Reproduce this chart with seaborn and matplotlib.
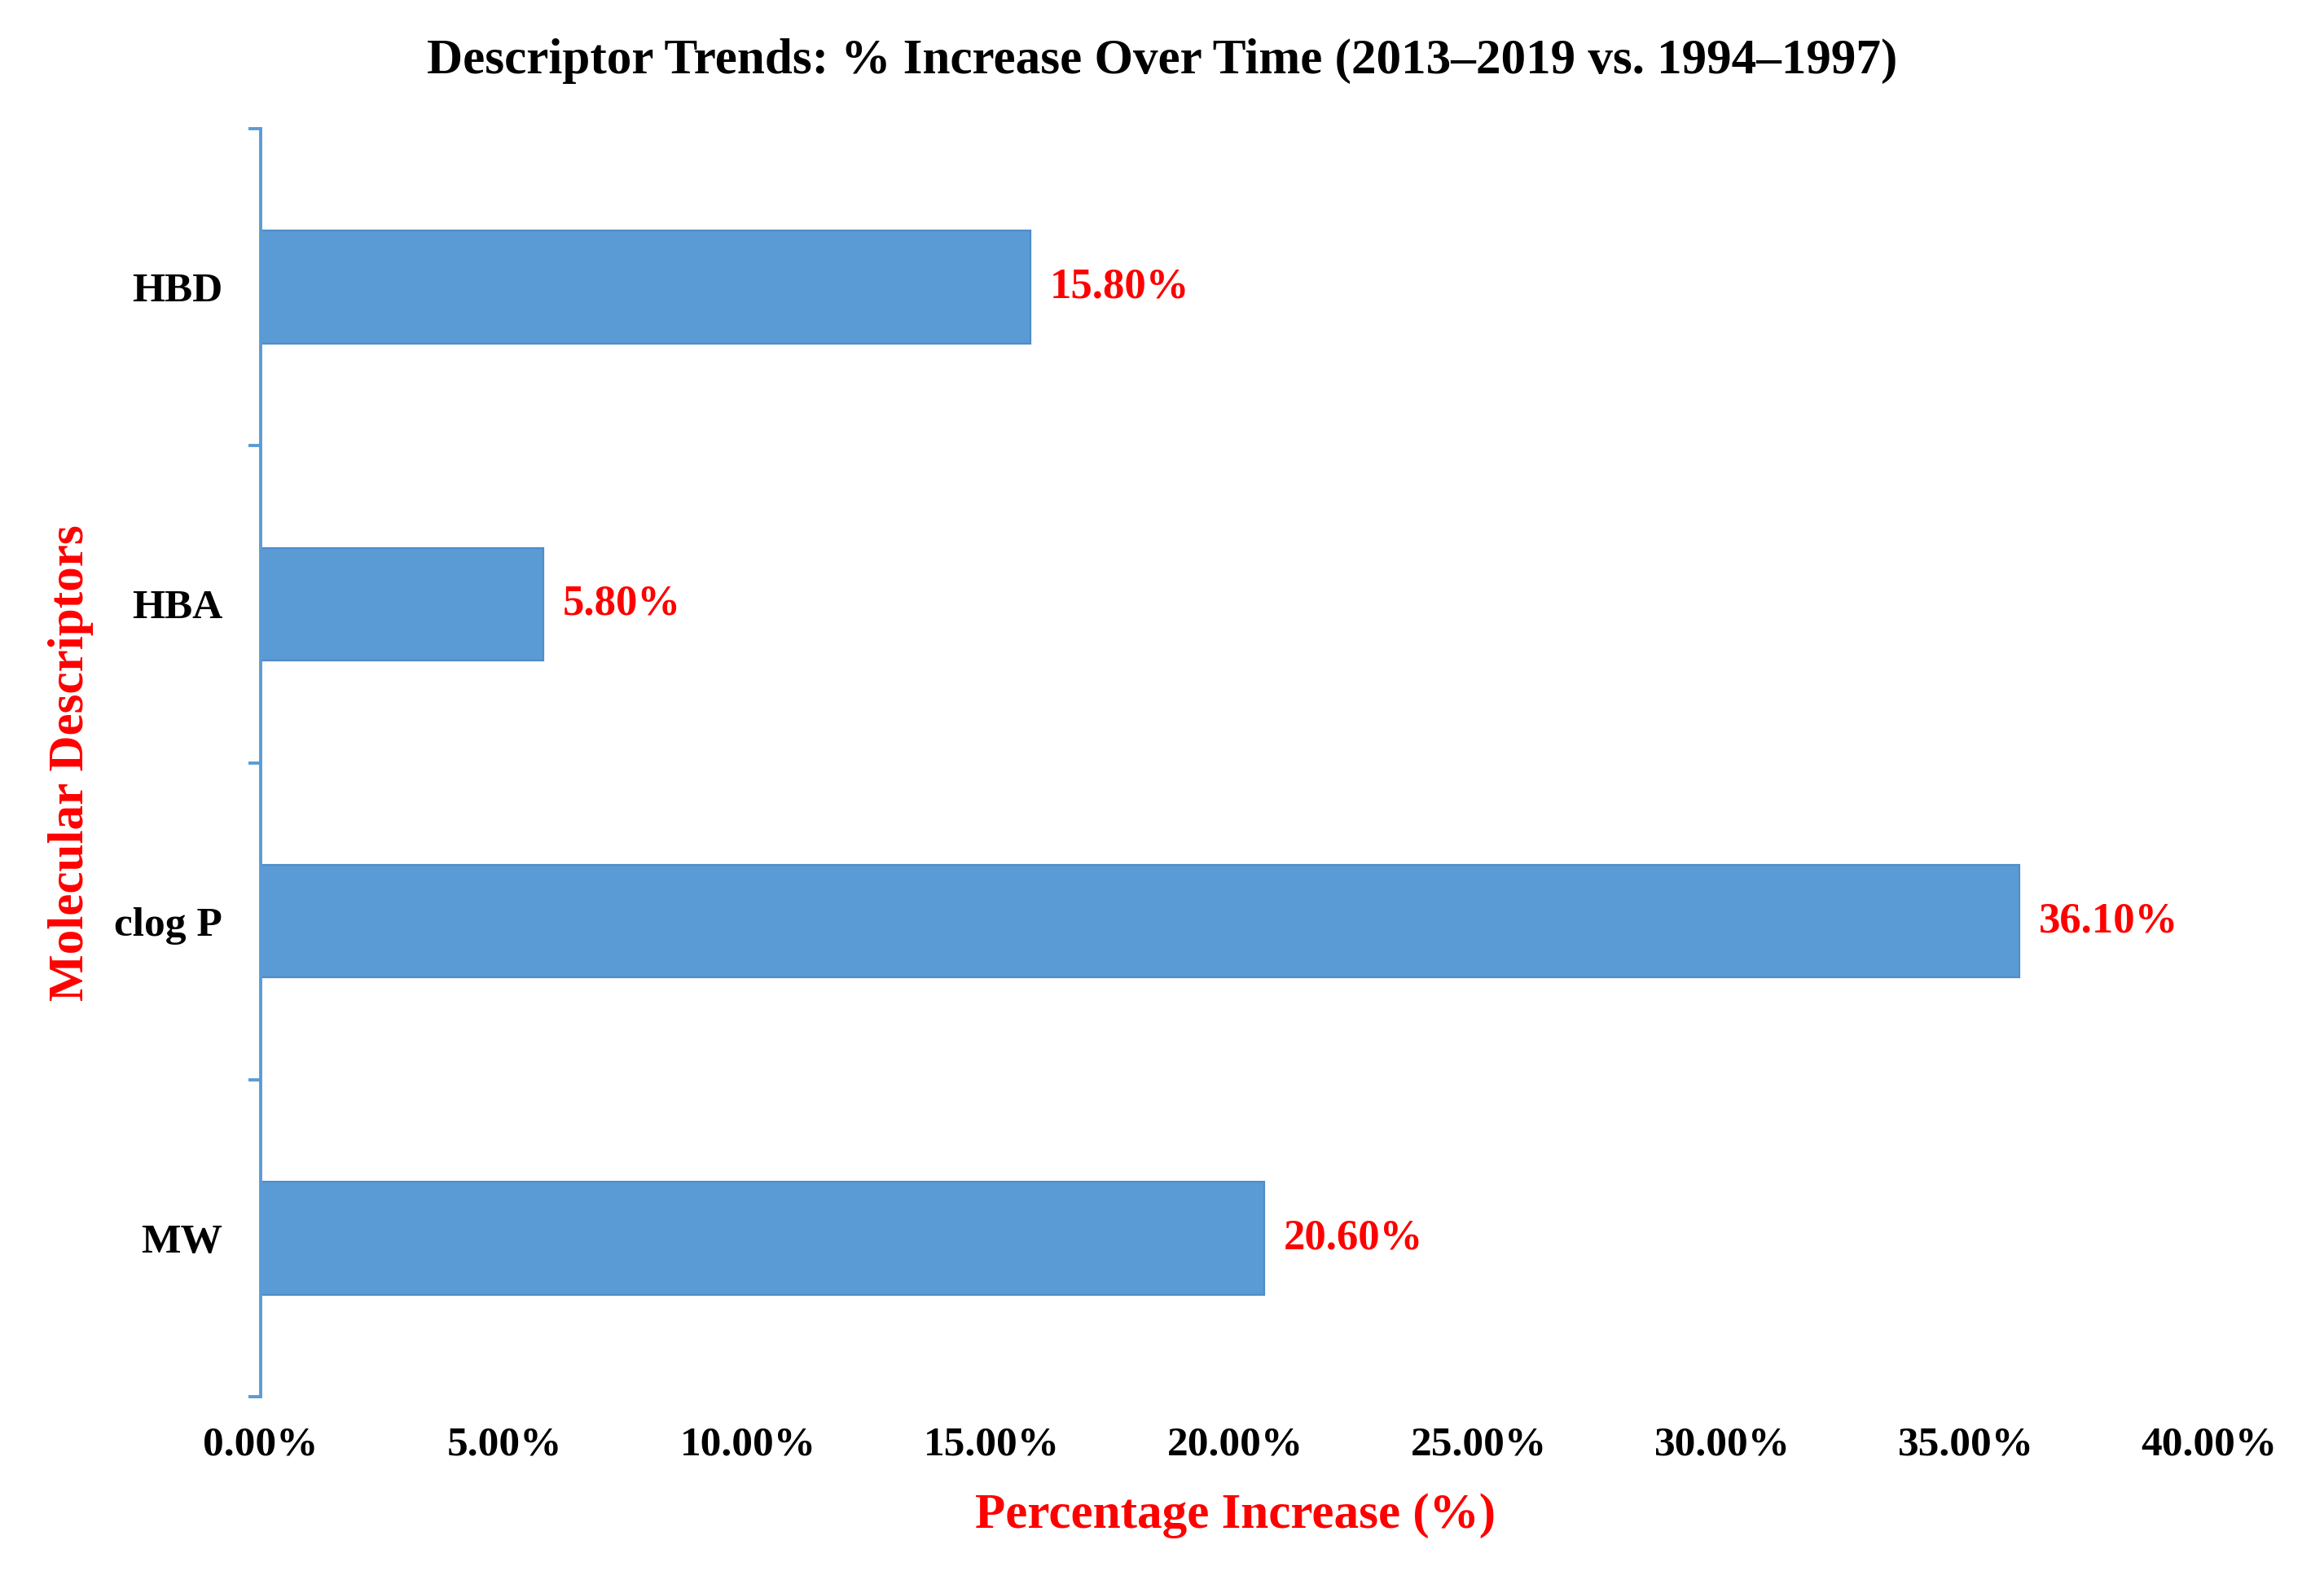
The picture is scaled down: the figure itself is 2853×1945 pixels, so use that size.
import matplotlib
matplotlib.use("Agg")
import matplotlib.pyplot as plt
import seaborn as sns
import pandas as pd
import numpy as np

# data
descriptors = ["HBD", "HBA", "clog P", "MW"]
increase = [15.8, 5.8, 36.1, 20.6]
x_ticks = [0, 5, 10, 15, 20, 25, 30, 35, 40]

df = pd.DataFrame({"descriptor": descriptors, "increase": increase})

sns.set_theme(style="white")
plt.rcParams["font.family"] = ["Liberation Serif", "DejaVu Serif"]
plt.rcParams["font.weight"] = "bold"

bar_blue = "#5B9BD5"
red = "#FF0000"

fig = plt.figure(figsize=(14.265, 9.725), dpi=200)
ax = fig.add_axes([0.1122, 0.1182, 0.8384, 0.8006])

sns.barplot(data=df, x="increase", y="descriptor", order=descriptors,
            color=bar_blue, saturation=1, width=0.355,
            edgecolor="#4F8CC9", linewidth=0.8, ax=ax)

# value labels
for i, v in enumerate(increase):
    ax.text(v + 0.4, i, f"{v:.2f}%", color=red, fontsize=19, fontweight="bold",
            va="center", ha="left")

ax.set_xlim(0, 40)
ax.set_ylim(3.5, -0.5)
ax.set_xticks(x_ticks)
ax.set_xticklabels([f"{t:.2f}%" for t in x_ticks], fontsize=18.5, fontweight="bold")
ax.tick_params(axis="x", length=0, pad=13, colors="black")

# category labels sit between boundary ticks
ax.set_yticks(range(len(descriptors)))
ax.set_yticklabels(descriptors, fontsize=18.5, fontweight="bold")
ax.set_yticks(np.arange(-0.5, len(descriptors), 1.0), minor=True)
ax.tick_params(axis="y", which="major", left=False, length=0, pad=17, labelcolor="black")
ax.tick_params(axis="y", which="minor", left=True, length=5.5, width=1.4,
               color=bar_blue, direction="out")

for s in ["top", "right", "bottom"]:
    ax.spines[s].set_visible(False)
ax.spines["left"].set_color(bar_blue)
ax.spines["left"].set_linewidth(1.4)

ax.set_xlabel("Percentage Increase (%)", color=red, fontsize=22, fontweight="bold", labelpad=13)
ax.set_ylabel("Molecular Descriptors", color=red, fontsize=22, fontweight="bold", labelpad=9)
fig.suptitle("Descriptor Trends: % Increase Over Time (2013\u20132019 vs. 1994\u20131997)",
             fontsize=22, fontweight="bold", color="black", y=0.976, x=0.5)

fig.savefig("out.png", dpi=200, facecolor="white")
